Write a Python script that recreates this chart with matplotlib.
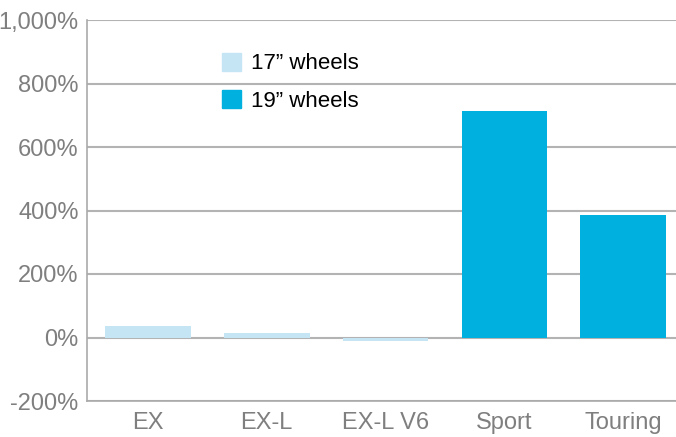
import numpy as np
import matplotlib
matplotlib.use("Agg")
import matplotlib.pyplot as plt
from matplotlib.patches import Patch
from matplotlib.ticker import FuncFormatter

trims = ["EX", "EX-L", "EX-L V6", "Sport", "Touring"]
change_pct = [35, 15, -12, 712, 387]
wheel_size = ["17", "17", "17", "19", "19"]

colors = {"17": "#C5E5F5", "19": "#00B0DE"}
legend_labels = {"17": "17\u201d wheels", "19": "19\u201d wheels"}

plt.rcParams['font.family'] = ['Liberation Sans', 'DejaVu Sans']

fig = plt.figure(figsize=(6.76, 4.37), dpi=100)
ax = fig.add_axes([87 / 676, 36 / 437, 1 - 87 / 676, 381 / 437])

x = np.arange(len(trims))
ax.bar(x, change_pct, width=0.72, color=[colors[w] for w in wheel_size], zorder=3)

ax.set_ylim(-200, 1000)
ax.set_yticks(np.arange(-200, 1001, 200))
ax.yaxis.set_major_formatter(FuncFormatter(lambda v, p: "{:,.0f}%".format(v)))
ax.set_xlim(-0.514, 4.446)
ax.set_xticks(x)
ax.set_xticklabels(trims)

ax.grid(axis='y', color='#B3B3B3', linewidth=1.5, zorder=0)
for s in ['top', 'right']:
    ax.spines[s].set_visible(False)
ax.spines['left'].set_color('#AAAAAA')
ax.spines['bottom'].set_color('#AAAAAA')
ax.spines['left'].set_linewidth(1.2)
ax.spines['bottom'].set_linewidth(1.2)
ax.tick_params(axis='both', length=0, labelsize=17, labelcolor='#7F7F7F')
ax.tick_params(axis='y', pad=6)
ax.tick_params(axis='x', pad=8)

handles = [Patch(color=colors[k]) for k in ["17", "19"]]
ax.legend(handles, [legend_labels[k] for k in ["17", "19"]],
          loc='upper left', bbox_to_anchor=(213 / 676, 1 - 44 / 437),
          bbox_transform=fig.transFigure, frameon=False, fontsize=16,
          handlelength=0.85, handleheight=0.85, handletextpad=0.45,
          labelspacing=0.7, borderaxespad=0)

fig.savefig("out.png", dpi=100)
